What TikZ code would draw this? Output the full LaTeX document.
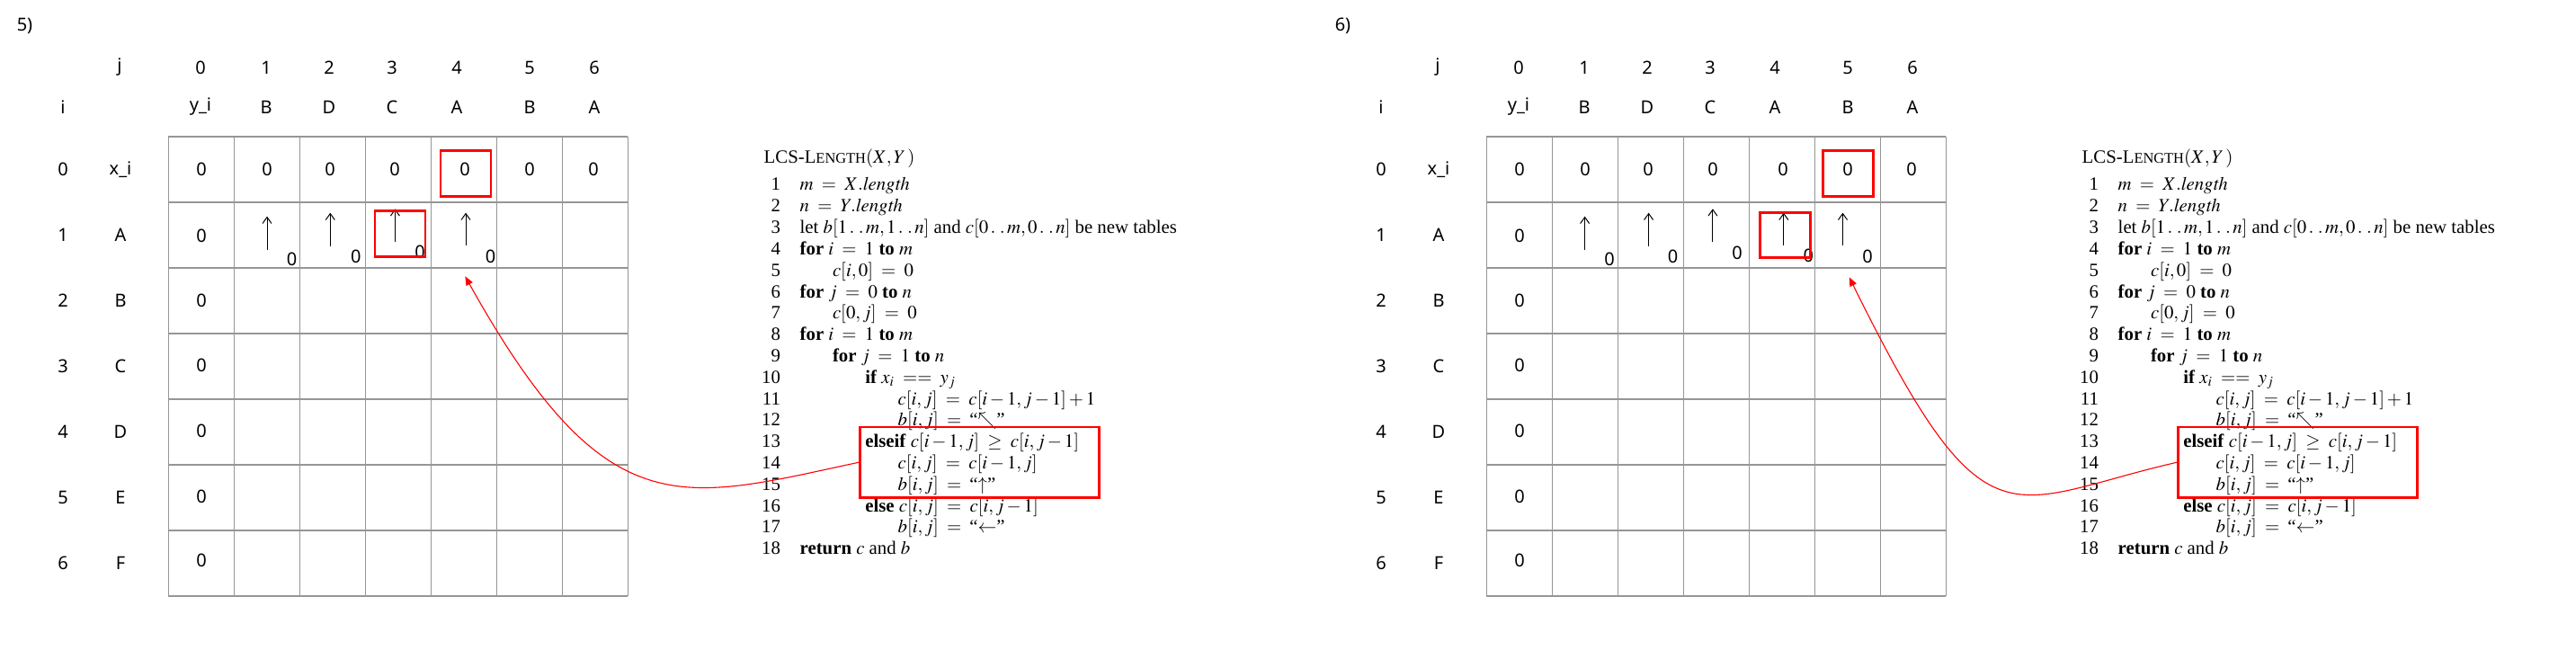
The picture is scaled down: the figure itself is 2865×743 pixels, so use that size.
\documentclass[tikz,border=0pt]{standalone}
\usepackage{mathptmx}
\usepackage[no-math]{fontspec}
\setmainfont{Liberation Serif}
\setsansfont{Noto Sans}
\usetikzlibrary{arrows.meta}
\definecolor{hlred}{RGB}{255,0,0}
\definecolor{gridgray}{RGB}{150,150,150}
\newcommand\lcsdots{\mathinner{\ldotp\,\ldotp}}
\thickmuskip=8mu plus 4mu
\tikzset{
  lbl/.style={font=\sffamily\fontsize{10}{12}\selectfont, inner sep=0pt},
  gridln/.style={draw=gridgray, line width=0.6pt},
  redbox/.style={draw=hlred, line width=1.4pt, inner sep=0pt, fill=none},
  uparr/.style={-{Straight Barb[length=3.5pt,width=5pt]}, line width=0.5pt},
  link/.style={draw=hlred, line width=0.55pt, -{Triangle[length=5pt,width=4pt]}},
  code/.style={font=\fontsize{10.4}{12}\selectfont, inner sep=0pt, anchor=base west},
  lnum/.style={font=\fontsize{10.4}{12}\selectfont, inner sep=0pt, anchor=base east},
}
\newcommand\lcstable[3]{%
\begin{scope}[shift={(#2,0)}]
  \node[lbl] (#1-lab) at (27.5,29) {#3};
  \node[lbl] (#1-j) at (133,75) {j};
  \node[lbl] (#1-i) at (70,119) {i};
  \foreach \c/\hx/\vx/\L in {0/223/224/y\_i, 1/296/297/B, 2/366/367/D, 3/436/439/C, 4/508/517/A, 5/589/589/B, 6/661/660/A} {
    \node[lbl] (#1-h\c) at (\hx,75) {\c};
    \node[lbl] (#1-y\c) at (\hx,119) {\L};
    \node[lbl] (#1-z\c) at (\vx,188.5) {0};
  }
  \foreach \r/\L in {0/x\_i, 1/A, 2/B, 3/C, 4/D, 5/E, 6/F} {
    \node[lbl] (#1-rn\r) at (70,188.5+73*\r) {\r};
    \node[lbl] (#1-rl\r) at (134,188.5+73*\r) {\L};
  }
  \foreach \r/\vy in {1/262, 2/334, 3/406.5, 4/479, 5/552, 6/623}
    \node[lbl] (#1-c\r) at (224,\vy) {0};
  \foreach \k in {0,...,7} {
    \draw[gridln] (187.3+73*\k,152) -- (187.3+73*\k,663);
    \draw[gridln] (187.3,152+73*\k) -- (698.3,152+73*\k);
  }
  % pseudocode
  \node[code] (#1-title) at (849.3,181.7) {LCS-L{\fontsize{8.2}{9}\selectfont ENGTH}$(X, Y\,)$};
  \foreach \n/\ind/\txt in {
    1/0/{$m = X.\mathit{length}$},
    2/0/{$n = Y.\mathit{length}$},
    3/0/{let $b[1\lcsdots m, 1\lcsdots n]$ and $c[0\lcsdots m, 0\lcsdots n]$ be new tables},
    4/0/{\textbf{for} $i = 1$ \textbf{to} $m$},
    5/1/{$c[i,0] = 0$},
    6/0/{\textbf{for} $j = 0$ \textbf{to} $n$},
    7/1/{$c[0,j] = 0$},
    8/0/{\textbf{for} $i = 1$ \textbf{to} $m$},
    9/1/{\textbf{for} $j = 1$ \textbf{to} $n$},
    10/2/{\textbf{if} $x_i \mathrel{==} y_j$},
    11/3/{$c[i,j] = c[i-1,j-1]+1$},
    12/3/{$b[i,j] = {}$``$\nwarrow$''},
    13/2/{\textbf{elseif} $c[i-1,j] \ge c[i,j-1]$},
    14/3/{$c[i,j] = c[i-1,j]$},
    15/3/{$b[i,j] = {}$``$\uparrow$''},
    16/2/{\textbf{else} $c[i,j] = c[i,j-1]$},
    17/3/{$b[i,j] = {}$``$\leftarrow$''},
    18/0/{\textbf{return} $c$ and $b$}} {
    \node[lnum] (#1-n\n) at (868.3,212+23.8*\n-23.8) {\n};
    \node[code] (#1-l\n) at (889.3+36.3*\ind,212+23.8*\n-23.8) {\txt};
  }
  \node[redbox, minimum width=133pt, minimum height=39.2pt] (#1-cbox) at (1089.7,514.2) {};
\end{scope}}
\begin{document}
\begin{tikzpicture}[x=0.5pt,y=-0.5pt]
\useasboundingbox (0,0) rectangle (2865,743);
% ---------- panel 5 ----------
\lcstable{p}{0}{5)}
\foreach \c/\ax/\ty/\by/\zx/\zy in {1/297/240.7/277.7/324.6/288.3, 2/367.3/236.7/274/395.8/285, 3/439.4/232.3/269/467/280, 4/518/236.7/273.3/545.5/285} {
  \coordinate (p-ab\c) at (\ax,\by);
  \coordinate (p-at\c) at (\ax,\ty);
  \draw[uparr] (p-ab\c) -- (p-at\c);
  \node[lbl] (p-s\c) at (\zx,\zy) {0};
}
\node[redbox, minimum width=28pt, minimum height=25.3pt] (p-hA) at (518,193) {};
\node[redbox, minimum width=28pt, minimum height=25.3pt] (p-hB) at (445,260) {};
\coordinate (p-tip) at (517.3,307.3);
\draw[link] (p-cbox.west) .. controls (756.7,556.7) and (674.8,589.5) .. (p-tip);
% ---------- panel 6 ----------
\lcstable{q}{1466}{6)}
\begin{scope}[shift={(1466,0)}]
\foreach \c/\ax/\ty/\by/\zx/\zy in {1/296.6/240.7/277.7/324.1/288.3, 2/367.6/236.7/274/394.6/285, 3/438.9/232.3/269.3/466/281, 4/517.8/236.7/273/545.4/284.3, 5/583.5/236.7/273/611/285} {
  \coordinate (q-ab\c) at (\ax,\by);
  \coordinate (q-at\c) at (\ax,\ty);
  \draw[uparr] (q-ab\c) -- (q-at\c);
  \node[lbl] (q-s\c) at (\zx,\zy) {0};
}
\node[redbox, minimum width=28pt, minimum height=25.3pt] (q-hA) at (589.5,193) {};
\node[redbox, minimum width=28pt, minimum height=25pt] (q-hB) at (519.6,261.7) {};
\coordinate (q-tip) at (590.7,308.3);
\draw[link] (q-cbox.west) .. controls (765.7,557.7) and (743.7,618.8) .. (q-tip);
\end{scope}
\end{tikzpicture}
\end{document}
